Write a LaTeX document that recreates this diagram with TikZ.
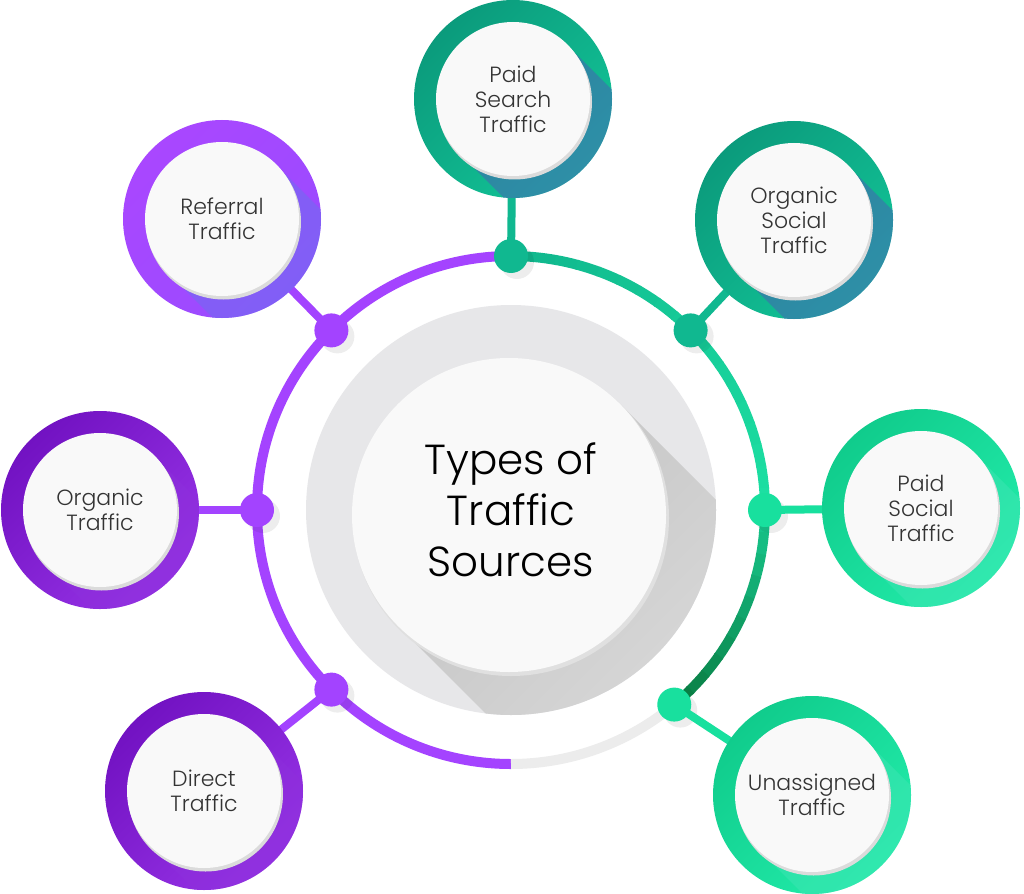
\documentclass[tikz,border=0pt]{standalone}
\usepackage{fontspec}
\IfFontExistsTF{Poppins Light}{\setmainfont{Poppins Light}}{\setmainfont{Poppins}}
\usetikzlibrary{calc}
\pgfdeclarelayer{bg}
\pgfdeclarelayer{mid}
\pgfsetlayers{bg,mid,main}
\definecolor{ringPurple}{HTML}{A443FF}
\definecolor{ringTealA}{HTML}{10B78D}
\definecolor{ringTealB}{HTML}{1CDFA2}
\definecolor{ringDarkA}{HTML}{18C68C}
\definecolor{ringDarkB}{HTML}{097E44}
\definecolor{ringGray}{HTML}{ECECEC}
\definecolor{coreGray}{HTML}{E7E7E9}
\definecolor{discWhite}{HTML}{F9F9F9}
\definecolor{txt}{HTML}{333333}
\definecolor{tealA}{HTML}{0B9B7C}
\definecolor{tealB}{HTML}{12C497}
\definecolor{tealShadow}{HTML}{4A5FB8}
\definecolor{greenA}{HTML}{10CC8C}
\definecolor{greenB}{HTML}{22ECAA}
\definecolor{greenShadow}{HTML}{3FE6B4}
\definecolor{violetA}{HTML}{7212C2}
\definecolor{violetB}{HTML}{9633E6}
\definecolor{violetShadow}{HTML}{8E30DC}
\definecolor{lilacA}{HTML}{A947FF}
\definecolor{lilacB}{HTML}{9A4BFF}
\definecolor{lilacShadow}{HTML}{6C72EE}
\definecolor{dotTeal}{HTML}{10B890}
\definecolor{dotPurple}{HTML}{A343FF}
\definecolor{dotGreen}{HTML}{18E09E}
\tikzset{
  ring/.style={line width=10pt},
  conn/.style={line width=8pt, draw=#1},
  dot/.style={circle, inner sep=0pt, minimum size=34pt, fill=#1},
  src/.style n args={3}{circle, inner sep=0pt, minimum size=198pt,
    top color=#1, bottom color=#2, shading angle=45,
    align=center, text=txt, font=\fontsize{22}{25}\selectfont,
    path picture={
      \fill[#3, opacity=.35] (path picture bounding box.center)
        +(54,-54) -- +(254,146) -- +(146,254) -- +(-54,54) -- cycle;
      \fill[#3, opacity=.25] (path picture bounding box.center)
        +(64,-44) -- +(254,146) -- +(146,254) -- +(-44,64) -- cycle;
      \fill[black!14] ([shift={(1.5,3)}]path picture bounding box.center) circle (77.5);
      \fill[discWhite] (path picture bounding box.center) circle (77);
    }},
  core/.style={circle, inner sep=0pt, minimum size=410pt, fill=coreGray,
    align=center, text=black, font=\fontsize{42}{51}\selectfont,
    path picture={
      \shade[top color=black!26, bottom color=black!10, shading angle=45]
        ([shift={(-2,5)}]path picture bounding box.center)
        +(111,-111) -- +(411,189) -- +(189,411) -- +(-111,111) -- cycle;
      \fill[black!12] ([shift={(0,8)}]path picture bounding box.center) circle (158);
      \fill[discWhite] ([shift={(-2,5)}]path picture bounding box.center) circle (157);
    }}
}
\begin{document}
\begin{tikzpicture}[x=1pt,y=-1pt]
\useasboundingbox (0,0) rectangle (1024,893);
\coordinate (O) at (511,510);

% centre
\node[core] (core) at (511,510) {Types of\\Traffic\\Sources};

% ring
\begin{pgfonlayer}{bg}
  \fill[white] (0,0) rectangle (1024,893);
  \draw[ring, ringPurple] (O) ++(-90:254) arc[start angle=-90, end angle=-270, radius=254];
  \foreach \i in {0,...,17}{
    \pgfmathsetmacro\pa{-90+5*\i}
    \pgfmathsetmacro\pb{-90+5*\i+5.3}
    \pgfmathtruncatemacro\pm{100-\i*100/17}
    \draw[ring, ringTealA!\pm!ringTealB] (O) ++(\pa:254) arc[start angle=\pa, end angle=\pb, radius=254];
  }
  \foreach \i in {0,...,9}{
    \pgfmathsetmacro\pa{5*\i}
    \pgfmathsetmacro\pb{5*\i+5.3}
    \pgfmathtruncatemacro\pm{100-\i*100/9}
    \draw[ring, ringDarkA!\pm!ringDarkB] (O) ++(\pa:254) arc[start angle=\pa, end angle=\pb, radius=254];
  }
  \draw[ring, ringGray] (O) ++(50:254) arc[start angle=50, end angle=90, radius=254];
\end{pgfonlayer}

% dots on the ring
\node[dot=dotTeal]   (d1) at ($(O)+(-90:254)$) {};
\node[dot=dotTeal]   (d2) at ($(O)+(-45:254)$) {};
\node[dot=dotGreen]  (d3) at ($(O)+(0:254)$) {};
\node[dot=dotGreen]  (d4) at ($(O)+(50:254)$) {};
\node[dot=dotPurple] (d5) at ($(O)+(135:254)$) {};
\node[dot=dotPurple] (d6) at ($(O)+(180:254)$) {};
\node[dot=dotPurple] (d7) at ($(O)+(-135:254)$) {};

% source circles
\node[src={tealA}{tealB}{tealShadow}]     (s1) at (513,99)  {Paid\\Search\\Traffic};
\node[src={tealA}{tealB}{tealShadow}]     (s2) at (794,220) {Organic\\Social\\Traffic};
\node[src={greenA}{greenB}{greenShadow}]  (s3) at (921,508) {Paid\\Social\\Traffic};
\node[src={greenA}{greenB}{greenShadow}]  (s4) at (812,795) {Unassigned\\Traffic};
\node[src={violetA}{violetB}{violetShadow}] (s5) at (204,791) {Direct\\Traffic};
\node[src={violetA}{violetB}{violetShadow}] (s6) at (100,510) {Organic\\Traffic};
\node[src={lilacA}{lilacB}{lilacShadow}]  (s7) at (222,219) {Referral\\Traffic};

% connectors and soft dot shadows
\begin{pgfonlayer}{mid}
  \foreach \d in {d1,d2,d3,d4,d5,d6,d7}{
    \fill[black, opacity=.07] ([shift={(6,6)}]\d.center) circle (17);
  }
  \draw[conn=dotTeal]   (d1.center) -- (s1.center);
  \draw[conn=dotTeal]   (d2.center) -- (s2.center);
  \draw[conn=dotGreen]  (d3.center) -- (s3.center);
  \draw[conn=dotGreen]  (d4.center) -- (s4.center);
  \draw[conn=dotPurple] (d5.center) -- (s5.center);
  \draw[conn=dotPurple] (d6.center) -- (s6.center);
  \draw[conn=dotPurple] (d7.center) -- (s7.center);
\end{pgfonlayer}
\end{tikzpicture}
\end{document}
